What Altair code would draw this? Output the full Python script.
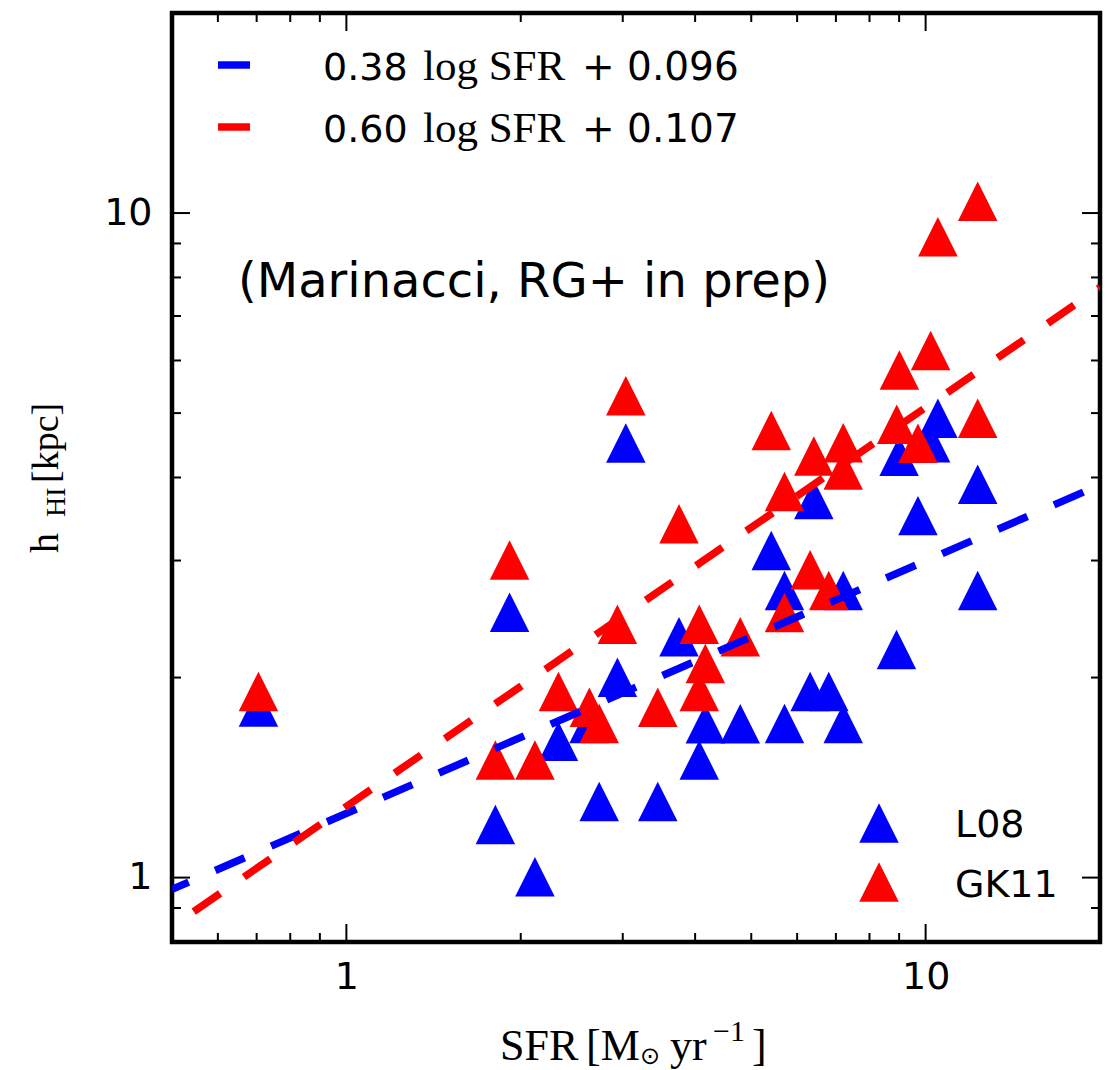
import altair as alt
import pandas as pd

# ---------------- data ----------------
l08_sfr = [0.705, 1.808, 2.116, 1.913, 2.323, 2.624, 2.732, 2.937, 3.037, 3.448,
           3.752, 4.066, 4.165, 4.786, 5.414, 5.706, 5.706, 6.318, 6.412, 6.804,
           7.207, 7.207, 8.906, 8.999, 9.700, 10.20, 10.50, 12.30, 12.30]
l08_h = [1.806, 1.202, 1.003, 2.507, 1.604, 1.705, 1.302, 2.002, 4.507, 1.302,
         2.304, 1.503, 1.704, 1.704, 3.106, 2.704, 1.706, 1.905, 3.706, 1.905,
         2.704, 1.706, 2.205, 4.307, 3.505, 4.510, 4.913, 3.908, 2.704]

gk11_sfr = [0.705, 1.808, 2.116, 1.913, 2.323, 2.627, 2.732, 2.937, 3.037, 3.448,
            3.752, 4.066, 4.066, 4.165, 4.786, 5.414, 5.706, 5.706, 6.318, 6.412,
            6.804, 7.207, 7.207, 8.916, 9.010, 9.700, 10.20, 10.50, 12.30, 12.30]
gk11_h = [1.906, 1.503, 1.503, 3.006, 1.905, 1.804, 1.705, 2.405, 5.311, 1.804,
          3.407, 2.405, 1.905, 2.099, 2.304, 4.706, 3.810, 2.506, 2.905, 4.311,
          2.704, 4.510, 4.107, 4.812, 5.806, 4.505, 6.209, 9.214, 10.42, 4.913]

# fitted relations (end points)
fit_sfr = [0.5, 20.0]
fit_l08_h = [0.960, 3.90]
fit_gk11_h = [0.844, 7.73]

legend_fit_labels_num = ["0.38", "0.60"]
legend_fit_labels_int = ["+ 0.096", "+ 0.107"]
legend_models = ["L08", "GK11"]

x_major = [1, 10]
x_minor = [0.6, 0.7, 0.8, 0.9, 2, 3, 4, 5, 6, 7, 8, 9]
y_major = [1, 10]
y_minor = [0.9, 2, 3, 4, 5, 6, 7, 8, 9]

BLUE = "#0000ff"
RED = "#ff0000"
W, H = 928, 929
TRI = "M0,-1L-1,1L1,1Z"
TRI_SIZE = 1560
DASH = [32, 29]

xs = alt.Scale(type="log", domain=[0.5, 20], nice=False)
ys = alt.Scale(type="log", domain=[0.8, 20], nice=False)

x_axis = alt.Axis(values=x_major, format="d", title=None, ticks=False, domain=False,
                  grid=False, labelFont="DejaVu Sans", labelFontSize=38,
                  labelColor="black", labelPadding=16, labelFlush=False)
y_axis = alt.Axis(values=y_major, format="d", title=None, ticks=False, domain=False,
                  grid=False, labelFont="DejaVu Sans", labelFontSize=38,
                  labelColor="black", labelPadding=20, labelFlush=False)

one = pd.DataFrame({"d": [0]})


def ticks_x(vals, length, top):
    df = pd.DataFrame({"sfr": vals})
    if top:
        y0, y1 = 0, length
    else:
        y0, y1 = H, H - length
    return alt.Chart(df).mark_rule(color="black", strokeWidth=2).encode(
        x=alt.X("sfr:Q", scale=xs, axis=x_axis),
        y=alt.value(y0), y2=alt.value(y1))


def ticks_y(vals, length, right):
    df = pd.DataFrame({"h": vals})
    if right:
        x0, x1 = W, W - length
    else:
        x0, x1 = 0, length
    return alt.Chart(df).mark_rule(color="black", strokeWidth=2).encode(
        y=alt.Y("h:Q", scale=ys, axis=y_axis),
        x=alt.value(x0), x2=alt.value(x1))


tick_layers = [
    ticks_x(x_major, 18, False), ticks_x(x_minor, 9, False),
    ticks_x(x_major, 18, True), ticks_x(x_minor, 9, True),
    ticks_y(y_major, 18, False), ticks_y(y_minor, 9, False),
    ticks_y(y_major, 18, True), ticks_y(y_minor, 9, True),
]

l08_df = pd.DataFrame({"sfr": l08_sfr, "h": l08_h})
gk11_df = pd.DataFrame({"sfr": gk11_sfr, "h": gk11_h})

pts_l08 = alt.Chart(l08_df).mark_point(shape=TRI, filled=True, size=TRI_SIZE,
                                       color=BLUE, opacity=1).encode(
    x=alt.X("sfr:Q", scale=xs, axis=x_axis),
    y=alt.Y("h:Q", scale=ys, axis=y_axis))
pts_gk11 = alt.Chart(gk11_df).mark_point(shape=TRI, filled=True, size=TRI_SIZE,
                                         color=RED, opacity=1).encode(
    x=alt.X("sfr:Q", scale=xs, axis=x_axis),
    y=alt.Y("h:Q", scale=ys, axis=y_axis))

fit_l08_df = pd.DataFrame({"sfr": fit_sfr, "h": fit_l08_h})
fit_gk11_df = pd.DataFrame({"sfr": fit_sfr, "h": fit_gk11_h})
line_l08 = alt.Chart(fit_l08_df).mark_line(color=BLUE, strokeWidth=7.5, clip=True,
                                           strokeDash=DASH, strokeDashOffset=13.8,
                                           strokeCap="butt").encode(
    x=alt.X("sfr:Q", scale=xs, axis=x_axis),
    y=alt.Y("h:Q", scale=ys, axis=y_axis))
line_gk11 = alt.Chart(fit_gk11_df).mark_line(color=RED, strokeWidth=7.5, clip=True,
                                             strokeDash=DASH, strokeDashOffset=34.6,
                                             strokeCap="butt").encode(
    x=alt.X("sfr:Q", scale=xs, axis=x_axis),
    y=alt.Y("h:Q", scale=ys, axis=y_axis))


def txt(text, x, y, font, size, align="left", baseline="alphabetic", angle=0,
        weight="normal", color="black"):
    kw = dict(text=text, font=font, fontSize=size, align=align, baseline=baseline,
              color=color, fontWeight=weight)
    if angle:
        kw["angle"] = angle
    return alt.Chart(one).mark_text(**kw).encode(x=alt.value(x), y=alt.value(y))


def seg(x0, x1, y, color):
    return alt.Chart(one).mark_rule(color=color, strokeWidth=7.5).encode(
        x=alt.value(x0), x2=alt.value(x1), y=alt.value(y))


def tri(x, y, color):
    return alt.Chart(one).mark_point(shape=TRI, filled=True, size=TRI_SIZE,
                                     color=color, opacity=1).encode(
        x=alt.value(x), y=alt.value(y))


OX, OY = 172, 13  # plot origin in page pixels

extras = [
    # top-left legend (fit lines)
    seg(218 - OX, 250 - OX, 65 - OY, BLUE),
    seg(218 - OX, 250 - OX, 127 - OY, RED),
    txt(legend_fit_labels_num[0], 323 - OX, 80 - OY, "DejaVu Sans", 38),
    txt("log SFR", 423 - OX, 80 - OY, "Liberation Serif", 43),
    txt(legend_fit_labels_int[0], 582 - OX, 80 - OY, "DejaVu Sans", 39),
    txt(legend_fit_labels_num[1], 323 - OX, 142 - OY, "DejaVu Sans", 38),
    txt("log SFR", 423 - OX, 142 - OY, "Liberation Serif", 43),
    txt(legend_fit_labels_int[1], 582 - OX, 142 - OY, "DejaVu Sans", 39),
    # bottom-right legend (models)
    tri(879 - OX, 823 - OY, BLUE),
    tri(879 - OX, 882 - OY, RED),
    txt(legend_models[0], 955 - OX, 837 - OY, "DejaVu Sans", 38),
    txt(legend_models[1], 955 - OX, 897 - OY, "DejaVu Sans", 38),
    # annotation
    txt("(Marinacci, RG+ in prep)", 238 - OX, 297 - OY, "DejaVu Sans", 48),
    # x axis title
    txt("SFR", 500 - OX, 1060 - OY, "Liberation Serif", 44),
    txt("[M", 586 - OX, 1060 - OY, "Liberation Serif", 44),
    txt("⊙", 640 - OX, 1064 - OY, "DejaVu Sans", 24),
    txt("yr", 670 - OX, 1060 - OY, "Liberation Serif", 44),
    txt("−1", 713 - OX, 1041 - OY, "Liberation Serif", 30),
    txt("]", 752 - OX, 1060 - OY, "Liberation Serif", 44),
    # y axis title (rotated)
    txt("h", 58 - OX, 553 - OY, "Liberation Serif", 40, angle=270),
    txt("HI", 65 - OX, 517 - OY, "Liberation Serif", 28, angle=270),
    txt("[kpc]", 58 - OX, 483 - OY, "Liberation Serif", 38, angle=270),
]

chart = alt.layer(
    pts_l08, pts_gk11, line_l08, line_gk11, *tick_layers, *extras
).properties(
    width=W, height=H,
    autosize=alt.AutoSizeParams(type="none"),
    padding={"left": OX, "top": OY, "right": 1119 - OX - W, "bottom": 1070 - OY - H},
    background="white",
).configure_view(
    stroke="black", strokeWidth=4.5
)

chart.save("out.html", embed_options={"renderer": "svg", "actions": False})
